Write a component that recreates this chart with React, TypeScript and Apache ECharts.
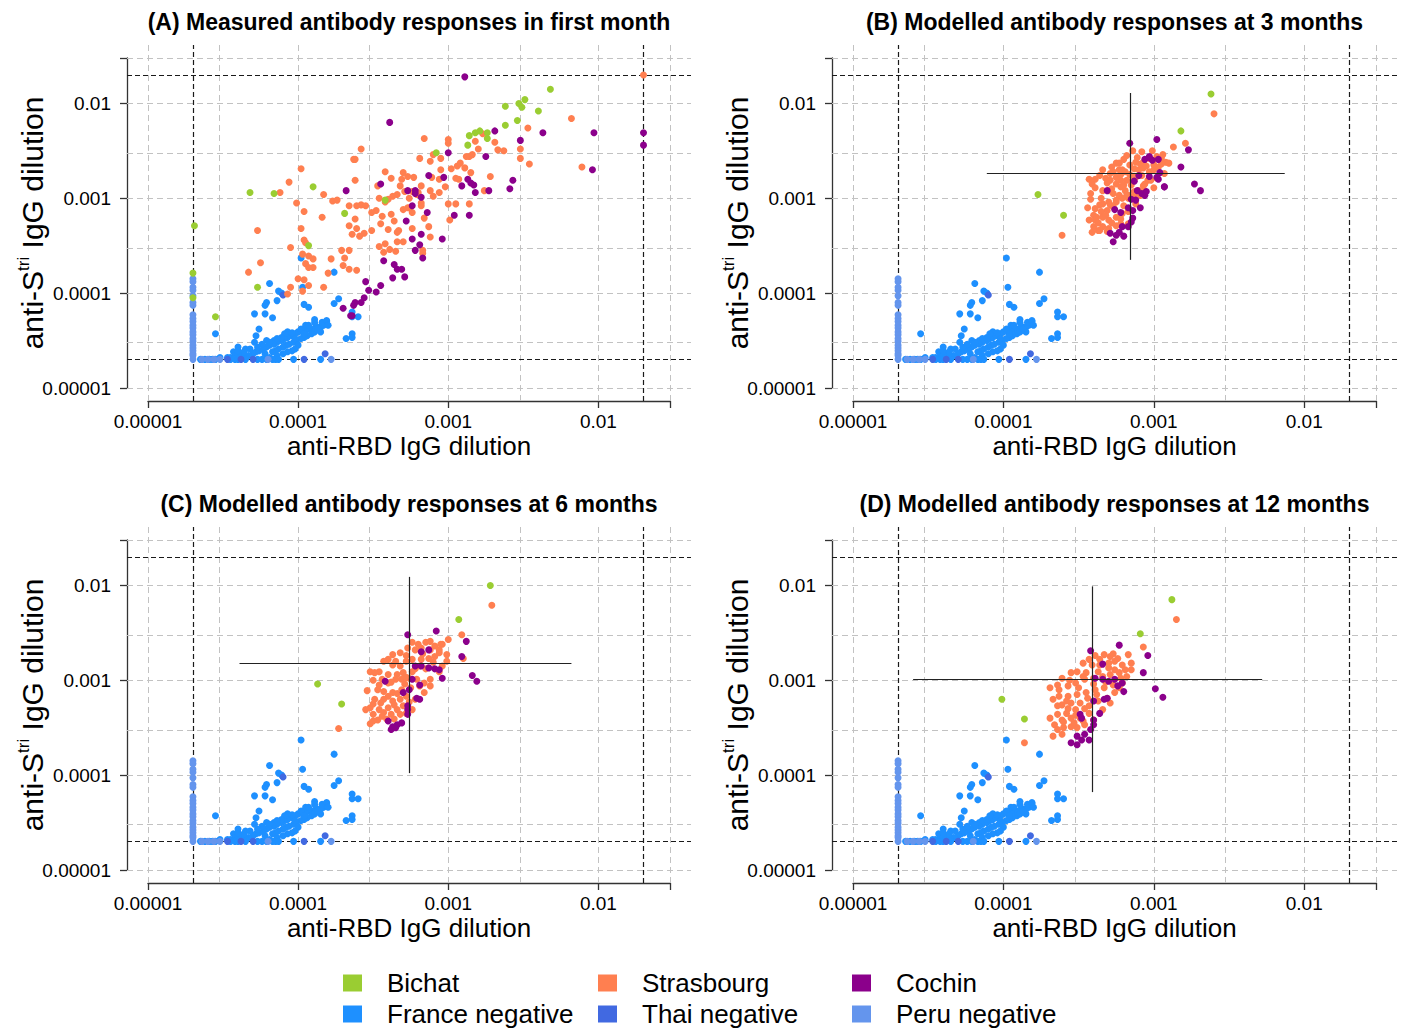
import React, { useEffect, useRef } from "react";
import * as echarts from "echarts";

type Pt = [number, number]; // [log10 anti-RBD dilution, log10 anti-Stri dilution]

const FONT = "'Liberation Sans', Arial, Helvetica, sans-serif";

const GROUP_NAMES = ["Bichat", "Strasbourg", "Cochin", "France negative", "Thai negative", "Peru negative"];
const GROUP_COLORS: Record<string, string> = {
  Bichat: "#9ACD32",
  Strasbourg: "#FF7F50",
  Cochin: "#8B008B",
  "France negative": "#1E90FF",
  "Thai negative": "#4169E1",
  "Peru negative": "#6495ED",
};
const LEGEND_COLUMNS = [
  ["Bichat", "France negative"],
  ["Strasbourg", "Thai negative"],
  ["Cochin", "Peru negative"],
];

const PANEL_TITLES = [
  "(A) Measured antibody responses in first month",
  "(B) Modelled antibody responses at 3 months",
  "(C) Modelled antibody responses at 6 months",
  "(D) Modelled antibody responses at 12 months",
];
const X_TITLE = "anti-RBD IgG dilution";
const Y_TITLE_RICH = "{a|anti-S}{s|tri}{a| IgG dilution}";
const TICK_LABELS = ["0.00001", "0.0001", "0.001", "0.01"];
const AXIS_MIN = 0.00001;
const AXIS_MAX = 0.03;
const GRIDLINE_VALUES = [1e-5, 3e-5, 1e-4, 3e-4, 1e-3, 3e-3, 1e-2, 3e-2];
const THRESHOLD_VALUES = [2e-5, 2e-2];

// ---------- negatives (same in all panels), log10 dilutions ----------
const franceNeg: Pt[] = [
  [-3.98, -3.63], [-3.76, -3.78], [-3.97, -3.94], [-4.19, -3.9], [-4.13, -3.98], [-4.11, -4.0],
  [-4.14, -4.08], [-4.21, -4.1], [-4.22, -4.13], [-4.22, -4.22], [-4.29, -4.22], [-4.17, -4.26],
  [-3.96, -4.12], [-3.93, -4.15], [-3.76, -4.11], [-3.73, -4.06], [-3.64, -4.25], [-3.6, -4.25],
  [-3.64, -4.2], [-3.68, -4.48], [-3.64, -4.43], [-3.64, -4.47], [-3.81, -4.3], [-3.83, -4.34],
  [-3.89, -4.28], [-4.55, -4.43], [-4.26, -4.38], [-4.28, -4.45],
  [-3.82, -4.33], [-3.85, -4.36], [-3.88, -4.35], [-3.9, -4.38], [-3.93, -4.38], [-3.95, -4.4],
  [-3.97, -4.41], [-4.0, -4.41], [-4.02, -4.43], [-4.04, -4.45], [-4.07, -4.47], [-4.09, -4.48],
  [-4.11, -4.5], [-4.14, -4.52], [-4.16, -4.54], [-4.19, -4.55], [-4.21, -4.57], [-4.23, -4.59],
  [-3.91, -4.43], [-3.94, -4.45], [-3.96, -4.47], [-3.98, -4.48], [-4.01, -4.5], [-4.03, -4.52],
  [-4.06, -4.54], [-4.08, -4.55], [-4.1, -4.57], [-4.13, -4.59], [-4.15, -4.61], [-4.17, -4.62],
  [-4.0, -4.55], [-4.02, -4.59], [-4.04, -4.61], [-4.07, -4.62], [-4.1, -4.64], [-4.14, -4.66],
  [-4.19, -4.68], [-4.22, -4.64], [-4.26, -4.61], [-4.28, -4.62], [-4.3, -4.64], [-4.33, -4.66],
  [-4.35, -4.68], [-4.38, -4.64], [-4.4, -4.57], [-4.35, -4.59], [-4.43, -4.62], [-4.42, -4.66],
  [-4.47, -4.68], [-4.29, -4.52], [-4.21, -4.5], [-3.95, -4.34], [-3.89, -4.41], [-3.85, -4.41],
  [-3.93, -4.34], [-4.02, -4.48], [-4.07, -4.41], [-4.04, -4.42], [-4.16, -4.5],
  [-3.89, -4.31], [-3.87, -4.38], [-3.84, -4.31], [-3.81, -4.29], [-3.8, -4.34], [-3.98, -4.38],
  [-3.96, -4.43], [-4.09, -4.43], [-4.11, -4.47], [-4.14, -4.48], [-4.19, -4.52], [-4.24, -4.54],
  [-4.27, -4.57], [-4.32, -4.59], [-4.36, -4.62], [-4.4, -4.65], [-4.45, -4.68], [-4.52, -4.68],
  [-4.4, -4.61],
  [-4.65, -4.7], [-4.62, -4.7], [-4.59, -4.7], [-4.57, -4.7], [-4.55, -4.7], [-4.45, -4.7],
  [-4.42, -4.7], [-4.4, -4.7], [-4.35, -4.7], [-4.27, -4.7], [-4.24, -4.7], [-4.21, -4.7],
  [-4.17, -4.7], [-4.15, -4.7], [-4.13, -4.7], [-4.03, -4.7], [-3.85, -4.7],
];
const thaiNeg: Pt[] = [
  [-4.1, -4.02], [-3.82, -4.64], [-3.96, -4.7], [-4.3, -4.7], [-4.38, -4.7], [-4.47, -4.7],
];
const peruNeg: Pt[] = [
  [-4.7, -3.85], [-4.7, -3.88], [-4.7, -3.94], [-4.7, -3.97], [-4.7, -4.03], [-4.7, -4.1],
  [-4.7, -4.13], [-4.7, -4.23], [-4.7, -4.27], [-4.7, -4.3], [-4.7, -4.34], [-4.7, -4.37],
  [-4.7, -4.41], [-4.7, -4.44], [-4.7, -4.48], [-4.7, -4.51], [-4.7, -4.55], [-4.7, -4.58],
  [-4.7, -4.61], [-4.7, -4.64], [-4.7, -4.66], [-4.7, -4.7],
  [-4.64, -4.7], [-4.6, -4.7], [-4.56, -4.7], [-4.52, -4.7], [-4.2, -4.7], [-3.78, -4.7],
];

// ---------- panel A: measured ----------
const bichatA: Pt[] = [
  [-2.32, -1.85], [-2.49, -1.96], [-2.53, -2.0], [-2.51, -2.04], [-2.62, -2.03], [-2.4, -2.08],
  [-2.54, -2.18], [-2.62, -2.23], [-2.86, -2.34], [-2.82, -2.31], [-2.79, -2.29], [-2.74, -2.31],
  [-2.74, -2.37], [-2.87, -2.44], [-3.08, -2.52], [-3.42, -3.02], [-3.9, -2.88], [-4.16, -2.95],
  [-4.32, -2.94], [-3.69, -3.16], [-3.93, -3.5], [-4.69, -3.29], [-4.7, -3.79], [-4.7, -4.05],
  [-4.27, -3.94], [-4.55, -4.25],
];
const strasA: Pt[] = [
  [-1.7, -1.7], [-2.18, -2.16], [-2.47, -2.26], [-2.11, -2.67], [-2.46, -2.64], [-2.52, -2.58],
  [-2.52, -2.48], [-2.63, -2.5], [-2.67, -2.49], [-2.69, -2.41], [-2.77, -2.32], [-2.8, -2.48],
  [-2.82, -2.4], [-2.72, -2.77], [-2.76, -2.92], [-2.86, -3.06], [-2.95, -3.06], [-2.99, -3.23],
  [-3.0, -3.06], [-2.85, -2.73], [-2.86, -2.56], [-2.88, -2.56], [-2.84, -2.54], [-2.89, -2.68],
  [-2.94, -2.66], [-2.93, -2.8], [-2.95, -2.79], [-3.0, -2.38], [-3.0, -2.42], [-3.16, -2.37],
  [-3.1, -2.54], [-3.19, -2.58], [-3.12, -2.61], [-3.05, -2.7], [-3.11, -2.78], [-3.02, -2.88],
  [-3.12, -2.92], [-3.06, -2.94], [-3.1, -2.98], [-3.18, -2.87], [-3.2, -2.94], [-3.21, -2.96],
  [-3.18, -3.05], [-3.18, -3.08], [-3.16, -3.21], [-3.13, -3.3], [-3.12, -3.41], [-3.17, -3.55],
  [-3.17, -3.58], [-3.24, -3.32], [-3.24, -3.15], [-3.26, -3.1], [-3.3, -2.73], [-3.27, -2.77],
  [-3.23, -2.78], [-3.31, -2.8], [-3.32, -2.87], [-3.29, -2.93], [-3.24, -2.93], [-3.34, -2.96],
  [-3.37, -2.98], [-3.26, -3.0], [-3.27, -3.1], [-3.3, -3.12], [-3.42, -2.72], [-3.47, -2.87],
  [-3.46, -3.0], [-3.4, -3.01], [-3.42, -3.04], [-3.38, -2.79], [-3.48, -3.13], [-3.51, -3.15],
  [-3.44, -3.19], [-3.38, -3.17], [-3.36, -3.24], [-3.33, -3.34], [-3.4, -3.33], [-3.34, -3.36],
  [-3.51, -3.34], [-3.45, -3.27], [-3.42, -3.48], [-3.39, -3.54], [-3.43, -3.57], [-3.46, -3.51],
  [-3.35, -3.56], [-3.3, -3.46], [-3.34, -3.46], [-3.58, -3.07], [-3.62, -2.59], [-3.63, -2.59],
  [-3.58, -2.48], [-3.62, -2.81], [-3.66, -3.08], [-3.61, -3.08], [-3.55, -3.08], [-3.62, -3.22],
  [-3.66, -3.29], [-3.61, -3.32], [-3.64, -3.38], [-3.59, -3.4], [-3.56, -3.37], [-3.71, -3.55],
  [-3.66, -3.55], [-3.69, -3.63], [-3.7, -3.71], [-3.66, -3.75], [-3.61, -3.76], [-3.77, -3.03],
  [-3.74, -3.02], [-3.83, -2.96], [-3.84, -3.2], [-3.78, -3.64], [-3.8, -3.79], [-3.83, -3.94],
  [-3.98, -2.69], [-4.01, -3.05], [-3.96, -3.14], [-3.98, -3.32], [-3.96, -3.44], [-3.95, -3.47],
  [-4.05, -3.52], [-3.97, -3.59], [-3.93, -3.61], [-3.9, -3.64], [-3.9, -3.73], [-3.95, -3.69],
  [-3.93, -3.73], [-4.0, -3.85], [-3.96, -3.86], [-3.93, -3.92], [-3.97, -3.98], [-4.06, -2.83],
  [-4.12, -2.94], [-4.27, -3.34], [-4.25, -3.68], [-4.33, -3.78], [-4.05, -3.94], [-4.07, -4.01],
  [-2.98, -2.69], [-2.92, -2.63], [-3.05, -2.58], [-3.06, -2.8],
];
const cochinA: Pt[] = [
  [-2.89, -1.72], [-3.39, -2.2], [-2.69, -2.29], [-2.52, -2.39], [-2.37, -2.31], [-2.03, -2.31],
  [-1.7, -2.31], [-1.7, -2.44], [-2.04, -2.7], [-3.0, -2.52], [-2.75, -2.56], [-3.13, -2.76],
  [-3.03, -2.78], [-2.87, -2.8], [-2.85, -2.84], [-2.83, -2.86], [-2.91, -2.87], [-2.82, -2.94],
  [-2.73, -2.92], [-2.57, -2.81], [-2.59, -2.9], [-3.45, -2.85], [-3.68, -2.92], [-3.27, -2.92],
  [-3.22, -2.92], [-3.22, -2.95], [-3.18, -2.99], [-3.24, -3.08], [-3.14, -3.15], [-3.28, -3.24],
  [-2.96, -3.18], [-2.86, -3.18], [-3.18, -3.38], [-3.24, -3.43], [-3.04, -3.43], [-3.19, -3.49],
  [-3.22, -3.55], [-3.17, -3.63], [-3.43, -3.66], [-3.36, -3.7], [-3.34, -3.75], [-3.31, -3.75],
  [-3.29, -3.83], [-3.37, -3.84], [-3.55, -3.88], [-3.53, -3.97], [-3.45, -3.92], [-3.48, -3.99],
  [-3.56, -4.05], [-3.58, -4.1], [-3.62, -4.1], [-3.63, -4.13], [-3.64, -4.24], [-3.7, -4.16],
  [-3.65, -4.24],
];

// ---------- panel B: modelled at 3 months ----------
const bichatB: Pt[] = [[-2.62, -1.9], [-2.82, -2.29], [-3.77, -2.96], [-3.6, -3.18]];
const strasB: Pt[] = [
  [-2.6, -2.11], [-2.79, -2.42], [-2.87, -2.46], [-3.61, -3.39],
  [-3.14, -2.5], [-3.08, -2.51], [-3.01, -2.5], [-2.98, -2.56], [-2.94, -2.54], [-2.92, -2.62],
  [-2.9, -2.63], [-2.95, -2.58], [-3.03, -2.58], [-3.07, -2.62], [-3.12, -2.62], [-3.13, -2.69],
  [-3.2, -2.59], [-3.25, -2.63], [-3.28, -2.67], [-3.23, -2.7], [-3.19, -2.72], [-3.16, -2.75],
  [-3.12, -2.78], [-3.08, -2.76], [-3.03, -2.72], [-3.0, -2.7], [-2.97, -2.67], [-3.04, -2.81],
  [-3.07, -2.87], [-3.1, -2.92], [-3.13, -2.97], [-3.17, -3.0], [-3.21, -2.7], [-3.27, -2.72],
  [-3.34, -2.7], [-3.39, -2.8], [-3.43, -2.8], [-3.41, -2.85], [-3.32, -2.79], [-3.29, -2.81],
  [-3.25, -2.85], [-3.22, -2.88], [-3.19, -2.92], [-3.23, -2.97], [-3.27, -2.95], [-3.3, -2.92],
  [-3.34, -2.92], [-3.39, -2.89], [-3.35, -3.0], [-3.42, -3.01], [-3.39, -3.11], [-3.34, -3.06],
  [-3.3, -3.04], [-3.25, -3.04], [-3.21, -3.0], [-3.17, -2.97], [-3.27, -3.09], [-3.31, -3.13],
  [-3.35, -3.14], [-3.4, -3.18], [-3.43, -3.23], [-3.39, -3.23], [-3.34, -3.2], [-3.3, -3.23],
  [-3.25, -3.2], [-3.21, -3.16], [-3.17, -3.14], [-3.34, -3.3], [-3.41, -3.36], [-3.37, -3.34],
  [-3.3, -3.32], [-3.25, -3.29], [-3.22, -3.27], [-3.17, -3.27], [-3.12, -3.06], [-3.09, -2.97],
  [-3.06, -2.93], [-3.0, -2.89], [-3.02, -2.81], [-2.93, -2.74], [-2.98, -2.79], [-3.0, -2.65],
  [-3.07, -2.68], [-3.1, -2.7], [-3.18, -2.81], [-3.15, -2.86], [-3.22, -2.81], [-3.25, -2.78],
  [-3.29, -2.74], [-3.16, -2.65], [-3.23, -2.63],
  [-3.36, -2.76], [-3.31, -2.84], [-3.28, -2.9], [-3.2, -2.86], [-3.14, -2.77], [-3.09, -2.64],
  [-3.05, -2.66], [-3.0, -2.6], [-2.95, -2.64], [-3.18, -2.97], [-3.25, -3.02], [-3.29, -3.07],
  [-3.36, -3.07], [-3.32, -3.18], [-3.28, -3.26], [-3.37, -3.26], [-3.4, -3.3], [-3.36, -3.34],
  [-3.31, -3.35], [-3.22, -3.22], [-3.2, -3.08], [-3.13, -2.93], [-3.06, -2.85], [-3.11, -2.57],
  [-3.18, -2.55], [-3.22, -2.75], [-3.42, -2.95], [-3.38, -3.2], [-3.44, -3.1],
];
const cochinB: Pt[] = [
  [-3.16, -2.42], [-2.98, -2.38], [-2.77, -2.49], [-2.82, -2.67], [-2.73, -2.85], [-2.69, -2.92],
  [-3.06, -2.59], [-3.03, -2.57], [-3.01, -2.6], [-3.1, -2.76], [-3.03, -2.77], [-2.98, -2.78],
  [-2.97, -2.8], [-2.93, -2.88], [-3.13, -2.82], [-3.31, -2.92], [-3.11, -2.92], [-3.08, -2.95],
  [-3.06, -2.97], [-3.15, -3.01], [-3.09, -3.1], [-3.26, -3.12], [-3.22, -3.15], [-3.14, -3.13],
  [-3.14, -3.21], [-3.15, -3.25], [-3.17, -3.3], [-3.21, -3.3], [-3.23, -3.36], [-3.25, -3.39],
  [-3.2, -3.4], [-3.29, -3.37], [-3.27, -3.46], [-3.03, -2.56], [-2.97, -2.59], [-2.96, -2.73],
  [-3.05, -2.93], [-2.93, -2.88], [-3.12, -3.02], [-3.17, -3.1],
];
// crosshair: [centre x, centre y, x low, x high, y low, y high]
const crossB = [-3.16, -2.74, -4.11, -2.13, -3.65, -1.89];

// ---------- panel C: modelled at 6 months ----------
const bichatC: Pt[] = [[-2.72, -2.0], [-2.93, -2.36], [-3.87, -3.04], [-3.71, -3.25]];
const strasC: Pt[] = [
  [-2.71, -2.21], [-2.91, -2.52], [-2.9, -2.77], [-3.73, -3.51], [-3.52, -3.46],
  [-3.24, -2.6], [-3.15, -2.6], [-3.12, -2.59], [-3.09, -2.64], [-3.04, -2.62], [-3.0, -2.57],
  [-3.01, -2.73], [-3.06, -2.71], [-3.12, -2.68], [-3.18, -2.66], [-3.22, -2.68], [-3.27, -2.66],
  [-3.32, -2.71], [-3.37, -2.73], [-3.4, -2.78], [-3.43, -2.8], [-3.37, -2.84], [-3.32, -2.85],
  [-3.28, -2.8], [-3.24, -2.78], [-3.18, -2.78], [-3.13, -2.77], [-3.09, -2.75], [-3.19, -2.85],
  [-3.24, -2.91], [-3.3, -2.92], [-3.34, -2.94], [-3.4, -2.94], [-3.46, -2.91], [-3.52, -2.91],
  [-3.49, -2.92], [-3.44, -2.99], [-3.4, -3.03], [-3.35, -2.99], [-3.31, -2.99], [-3.26, -2.98],
  [-3.21, -2.99], [-3.16, -3.03], [-3.19, -3.06], [-3.25, -3.08], [-3.31, -3.1], [-3.37, -3.13],
  [-3.43, -3.12], [-3.47, -3.1], [-3.54, -3.11], [-3.49, -3.2], [-3.43, -3.2], [-3.37, -3.22],
  [-3.32, -3.2], [-3.28, -3.17], [-3.52, -3.29], [-3.46, -3.31], [-3.4, -3.29], [-3.34, -3.31],
  [-3.3, -3.27], [-3.55, -3.31], [-3.5, -3.36], [-3.44, -3.38], [-3.38, -3.36], [-3.32, -3.36],
  [-3.47, -3.42], [-3.41, -3.41], [-3.28, -3.35], [-3.24, -3.31], [-3.22, -3.2], [-3.16, -3.13],
  [-3.12, -3.06], [-3.06, -2.91], [-3.04, -2.85], [-3.01, -2.8], [-3.12, -2.99],
  [-3.2, -2.62], [-3.28, -2.74], [-3.35, -2.8], [-3.22, -2.88], [-3.15, -2.88], [-3.1, -2.81],
  [-3.06, -2.68], [-3.28, -2.97], [-3.38, -3.02], [-3.46, -3.05], [-3.5, -3.0], [-3.4, -3.17],
  [-3.34, -3.14], [-3.29, -3.04], [-3.45, -3.24], [-3.36, -3.26], [-3.5, -3.25], [-3.43, -3.34],
  [-3.36, -3.41], [-3.5, -3.43], [-3.26, -3.23], [-3.17, -2.72], [-3.05, -2.62],
];
const cochinC: Pt[] = [
  [-3.27, -2.52], [-3.08, -2.48], [-2.88, -2.59], [-2.91, -2.75], [-2.84, -2.95], [-2.81, -3.01],
  [-3.04, -2.98], [-3.18, -2.7], [-3.13, -2.68], [-3.22, -2.85], [-3.18, -2.85], [-3.13, -2.87],
  [-3.09, -2.88], [-3.06, -2.89], [-3.24, -2.99], [-3.19, -3.05], [-3.26, -3.1], [-3.19, -3.2],
  [-3.21, -3.19], [-3.27, -3.27], [-3.27, -3.31], [-3.27, -3.36], [-3.42, -3.01], [-3.4, -3.43],
  [-3.37, -3.49], [-3.34, -3.47], [-3.31, -3.45], [-3.38, -3.52], [-3.35, -3.5], [-3.3, -3.13],
];
const crossC = [-3.26, -2.82, -4.39, -2.18, -3.98, -1.91];

// ---------- panel D: modelled at 12 months ----------
const bichatD: Pt[] = [[-2.88, -2.15], [-3.09, -2.51], [-4.01, -3.2], [-3.86, -3.41]];
const strasD: Pt[] = [
  [-2.85, -2.36], [-3.07, -2.65], [-3.86, -3.66], [-3.15, -2.89],
  [-3.47, -2.82], [-3.39, -2.74], [-3.33, -2.73], [-3.29, -2.75], [-3.26, -2.8], [-3.21, -2.84],
  [-3.17, -2.73], [-3.15, -2.82], [-3.26, -2.89], [-3.3, -2.87], [-3.36, -2.84], [-3.41, -2.84],
  [-3.45, -2.92], [-3.51, -2.91], [-3.55, -2.92], [-3.61, -2.98], [-3.64, -3.05], [-3.69, -3.08],
  [-3.63, -3.1], [-3.57, -3.06], [-3.52, -3.03], [-3.46, -2.99], [-3.4, -2.98], [-3.34, -2.96],
  [-3.29, -2.94], [-3.23, -2.92], [-3.18, -2.96], [-3.21, -3.03], [-3.27, -3.05], [-3.33, -3.08],
  [-3.39, -3.1], [-3.45, -3.13], [-3.51, -3.15], [-3.57, -3.17], [-3.63, -3.17], [-3.67, -3.2],
  [-3.61, -3.26], [-3.55, -3.24], [-3.49, -3.24], [-3.43, -3.27], [-3.37, -3.22], [-3.31, -3.19],
  [-3.26, -3.13], [-3.52, -3.31], [-3.58, -3.35], [-3.64, -3.36], [-3.69, -3.4], [-3.66, -3.47],
  [-3.61, -3.42], [-3.55, -3.4], [-3.49, -3.4], [-3.43, -3.35], [-3.6, -3.5], [-3.64, -3.52],
  [-3.55, -3.49], [-3.51, -3.5], [-3.67, -3.59], [-3.61, -3.57], [-3.46, -3.47], [-3.4, -3.42],
  [-3.34, -3.31], [-3.29, -3.24], [-3.23, -3.08],
  [-3.43, -2.78], [-3.36, -2.78], [-3.3, -2.82], [-3.24, -2.77], [-3.19, -2.89], [-3.37, -2.91],
  [-3.47, -2.96], [-3.56, -3.0], [-3.5, -3.08], [-3.4, -3.04], [-3.32, -3.02], [-3.44, -3.19],
  [-3.38, -3.15], [-3.58, -3.22], [-3.52, -3.37], [-3.57, -3.3], [-3.46, -3.3], [-3.6, -3.44],
  [-3.53, -3.45], [-3.47, -3.43], [-3.64, -3.27], [-3.27, -2.72], [-3.22, -2.98],
];
const cochinD: Pt[] = [
  [-3.42, -2.69], [-3.23, -2.63], [-3.04, -2.74], [-3.07, -2.92], [-2.99, -3.09], [-2.94, -3.18],
  [-3.34, -2.83], [-3.39, -2.98], [-3.34, -2.99], [-3.3, -3.01], [-3.26, -2.99], [-3.21, -3.03],
  [-3.2, -3.12], [-3.24, -3.06], [-3.31, -3.19], [-3.33, -3.2], [-3.4, -3.22], [-3.36, -3.35],
  [-3.49, -3.36], [-3.48, -3.4], [-3.4, -3.47], [-3.42, -3.52], [-3.46, -3.57], [-3.51, -3.59],
  [-3.48, -3.63], [-3.55, -3.66], [-3.51, -3.68], [-3.43, -3.63], [-3.4, -3.42],
];
const crossD = [-3.41, -2.99, -4.6, -2.28, -4.18, -2.01];

const PANEL_DATA = [
  { bichat: bichatA, stras: strasA, cochin: cochinA, cross: null as number[] | null },
  { bichat: bichatB, stras: strasB, cochin: cochinB, cross: crossB },
  { bichat: bichatC, stras: strasC, cochin: cochinC, cross: crossC },
  { bichat: bichatD, stras: strasD, cochin: cochinD, cross: crossD },
];

// ---------- layout (pixels) ----------
const PANEL_LAYOUT = [
  { left: 148, top: 58, width: 522, height: 330, titleY: 22 },
  { left: 853, top: 58, width: 523, height: 330, titleY: 22 },
  { left: 148, top: 540, width: 522, height: 330, titleY: 504 },
  { left: 853, top: 540, width: 523, height: 330, titleY: 504 },
];
const EXT = 0.04; // R's default 4% axis extension

const toDilution = (p: Pt) => [Math.pow(10, p[0]), Math.pow(10, p[1])];

function tickLabel(v: number) {
  const e = Math.log10(v);
  const r = Math.round(e);
  if (Math.abs(e - r) > 0.01) return "";
  return TICK_LABELS[r + 5] ?? "";
}

function buildOption() {
  const lMin = Math.log10(AXIS_MIN);
  const lMax = Math.log10(AXIS_MAX);
  const span = lMax - lMin;
  const dataMin = Math.pow(10, lMin - EXT * span);
  const dataMax = Math.pow(10, lMax + EXT * span);

  const grid: any[] = [];
  const xAxis: any[] = [];
  const yAxis: any[] = [];
  const series: any[] = [];
  const graphic: any[] = [];

  PANEL_LAYOUT.forEach((L, i) => {
    const padX = Math.round(EXT * L.width);
    const padY = Math.round(EXT * L.height);
    grid.push({
      left: L.left - padX, top: L.top - padY, width: L.width + 2 * padX, height: L.height + 2 * padY,
      outerBoundsMode: "none", containLabel: false,
    });
    grid.push({ left: L.left, top: L.top, width: L.width, height: L.height, outerBoundsMode: "none", containLabel: false });
    const dg = 2 * i;
    const ag = 2 * i + 1;
    xAxis.push({ type: "log", gridIndex: dg, min: dataMin, max: dataMax, show: false });
    yAxis.push({ type: "log", gridIndex: dg, min: dataMin, max: dataMax, show: false });

    const axisLine = { show: true, onZero: false, lineStyle: { color: "#333", width: 1.3 } };
    const axisTick = { show: true, inside: false, length: 7, lineStyle: { color: "#333", width: 1.3 } };
    xAxis.push({
      type: "log", gridIndex: ag, min: AXIS_MIN, max: AXIS_MAX, position: "bottom", offset: padY,
      axisLine, axisTick, splitLine: { show: false }, minorTick: { show: false },
      axisLabel: { formatter: tickLabel, fontSize: 19, color: "#000", fontFamily: FONT, margin: 11, hideOverlap: false },
      name: X_TITLE, nameLocation: "middle", nameGap: 32, nameMoveOverlap: false,
      nameTextStyle: { fontSize: 26, color: "#000", fontFamily: FONT },
    });
    yAxis.push({
      type: "log", gridIndex: ag, min: AXIS_MIN, max: AXIS_MAX, position: "left", offset: padX,
      axisLine, axisTick, splitLine: { show: false }, minorTick: { show: false },
      axisLabel: { formatter: tickLabel, fontSize: 19, color: "#000", fontFamily: FONT, margin: 16, hideOverlap: false },
      name: Y_TITLE_RICH, nameLocation: "middle", nameGap: 78, nameMoveOverlap: false,
      nameTextStyle: {
        color: "#000", fontFamily: FONT,
        rich: {
          a: { fontSize: 30, lineHeight: 34, fontFamily: FONT, color: "#000" },
          s: { fontSize: 17, lineHeight: 16, fontFamily: FONT, color: "#000", verticalAlign: "top" },
        },
      },
    });

    // grey dashed grid lines
    series.push({
      type: "line", xAxisIndex: dg, yAxisIndex: dg, data: [], silent: true, z: 1,
      markLine: {
        silent: true, z: 1, precision: 20, symbol: ["none", "none"], label: { show: false }, emphasis: { disabled: true },
        lineStyle: { color: "#c2c2c2", type: [6, 4], width: 1 },
        data: [...GRIDLINE_VALUES.map((v) => ({ xAxis: v })), ...GRIDLINE_VALUES.map((v) => ({ yAxis: v }))],
      },
    });
    // black dashed thresholds
    series.push({
      type: "line", xAxisIndex: dg, yAxisIndex: dg, data: [], silent: true, z: 1,
      markLine: {
        silent: true, z: 1.5, precision: 20, symbol: ["none", "none"], label: { show: false }, emphasis: { disabled: true },
        lineStyle: { color: "#1a1a1a", type: [5, 3], width: 1.2 },
        data: [...THRESHOLD_VALUES.map((v) => ({ xAxis: v })), ...THRESHOLD_VALUES.map((v) => ({ yAxis: v }))],
      },
    });

    const D = PANEL_DATA[i];
    const groups: [string, Pt[]][] = [
      ["France negative", franceNeg],
      ["Thai negative", thaiNeg],
      ["Peru negative", peruNeg],
      ["Strasbourg", D.stras],
      ["Cochin", D.cochin],
      ["Bichat", D.bichat],
    ];
    groups.forEach(([name, pts]) => {
      series.push({
        type: "scatter", name, xAxisIndex: dg, yAxisIndex: dg, z: 2, silent: true,
        symbol: "circle", symbolSize: 7,
        itemStyle: { color: GROUP_COLORS[name], opacity: 1 },
        data: pts.map(toDilution),
      });
    });

    if (D.cross) {
      const c = D.cross.map((v) => Math.pow(10, v));
      series.push({
        type: "line", xAxisIndex: dg, yAxisIndex: dg, data: [], silent: true, z: 5,
        markLine: {
          silent: true, z: 5, precision: 20, symbol: ["none", "none"], label: { show: false }, emphasis: { disabled: true },
          lineStyle: { color: "#222", type: "solid", width: 1.2 },
          data: [
            [{ coord: [c[2], c[1]] }, { coord: [c[3], c[1]] }],
            [{ coord: [c[0], c[4]] }, { coord: [c[0], c[5]] }],
          ],
        },
      });
    }

    graphic.push({
      type: "text", x: L.left + L.width / 2, y: L.titleY,
      style: {
        text: PANEL_TITLES[i], fontSize: 23, fontWeight: "bold", fontFamily: FONT, fill: "#000",
        align: "center", verticalAlign: "middle", textAlign: "center", textVerticalAlign: "middle",
      },
    });
  });

  const legend = LEGEND_COLUMNS.map((names, c) => ({
    orient: "vertical", left: [343, 598, 852][c], top: 970, padding: 0,
    itemWidth: 19, itemHeight: 17, itemGap: 5, icon: "rect", selectedMode: false,
    data: names,
    textStyle: { fontSize: 26, fontFamily: FONT, color: "#000", padding: [0, 0, 0, 20] },
  }));

  return {
    animation: false,
    backgroundColor: "#ffffff",
    grid, xAxis, yAxis, series, legend, graphic,
  };
}

export default function App() {
  const ref = useRef<HTMLDivElement | null>(null);
  useEffect(() => {
    document.body.style.margin = "0";
    if (!ref.current) return;
    const chart = echarts.init(ref.current, null, { renderer: "svg" });
    chart.setOption(buildOption() as any);
    return () => chart.dispose();
  }, []);
  return <div ref={ref} style={{ width: 1401, height: 1028 }} />;
}
